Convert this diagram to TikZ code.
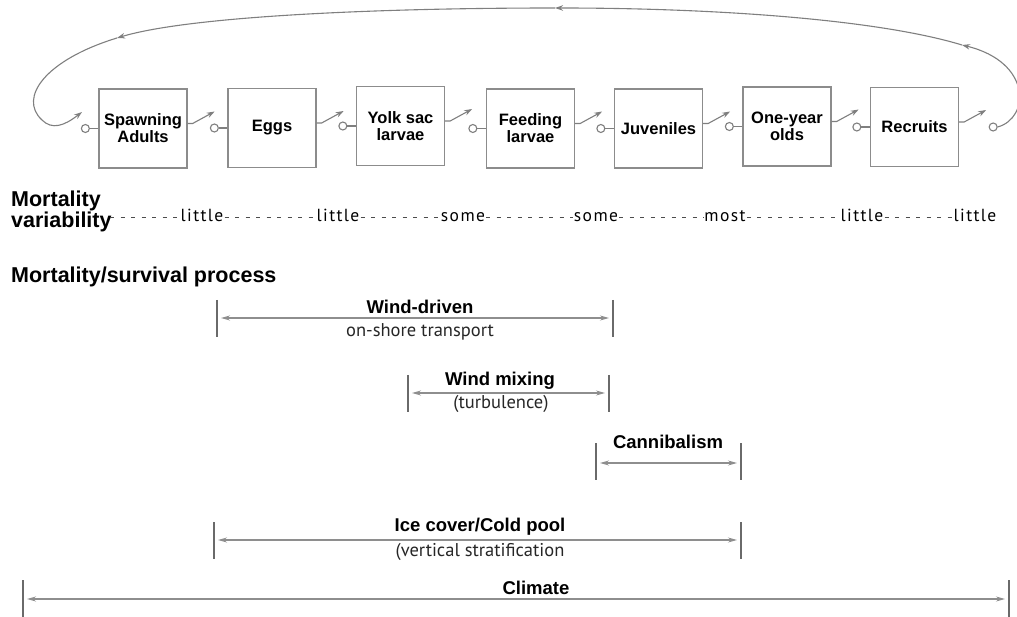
\documentclass[tikz,border=0pt]{standalone}
\usepackage{fontspec}
\setmainfont{Liberation Sans}
\newfontfamily\myr{PT Sans}
\newfontfamily\myrsp{PT Sans}[LetterSpace=8]
\usetikzlibrary{arrows.meta,calc}
\definecolor{boxgray}{HTML}{8C8C8C}
\definecolor{wiregray}{HTML}{7F7F7F}
\definecolor{bargray}{HTML}{6A6A6A}
\definecolor{spangray}{HTML}{8E8E8E}
\tikzset{
  stage/.style={draw=boxgray, line width=1.3pt, minimum width=88pt, minimum height=79pt,
    inner sep=0pt, align=center, font=\fontsize{16.5}{17}\selectfont\bfseries},
  port/.style={draw=wiregray, line width=1.1pt, circle, minimum size=8pt, inner sep=0pt},
  wire/.style={draw=wiregray, line width=1.1pt},
  tip/.style={-{Stealth[length=8pt,width=5.5pt]}},
  biglab/.style={font=\fontsize{21.5}{21}\selectfont\bfseries, align=left, inner sep=0pt},
  word/.style={font=\myrsp\fontsize{17.5}{17.5}\selectfont, inner sep=1pt, text=black},
  dashln/.style={draw=black!70, line width=0.9pt, dash pattern=on 4pt off 6.5pt},
  rlab/.style={font=\fontsize{18.5}{18.5}\selectfont\bfseries, inner sep=0pt},
  slab/.style={font=\myr\fontsize{18.5}{18.5}\selectfont, inner sep=0pt, text=black!85},
  bar/.style={draw=bargray, line width=1.6pt},
  span/.style={draw=spangray, line width=1.2pt,
    {Stealth[length=9pt,width=5pt]}-{Stealth[length=9pt,width=5pt]}},
}
\begin{document}
\begin{tikzpicture}[x=1pt,y=-1pt]
\useasboundingbox (0,0) rectangle (1017,617);

% stages
\node[stage] (b1) at (143,128.5) {Spawning\\Adults};
\node[stage] (b2) at (272,128) {Eggs};
\node[stage] (b3) at (400.5,126) {Yolk sac\\larvae};
\node[stage] (b4) at (530.5,128.5) {Feeding\\larvae};
\node[stage] (b5) at (658.5,128.5) {Juveniles};
\node[stage] (b6) at (787,126.5) {One-year\\olds};
\node[stage] (b7) at (914.5,127) {Recruits};

% input ports
\foreach \i in {1,...,7}{
  \node[port] (p\i) at ($(b\i.west)+(-13,0)$) {};
  \draw[wire] (p\i) -- (b\i.west);
}
\node[port] (p8) at ($(b7.east)+(34,0)$) {};

% switches
\foreach \i in {1,...,7}{
  \draw[wire,tip] ($(b\i.east)+(0,-5)$) -- ++(5,0) -- ++(22,-12);
}

% feedback loop
\coordinate (l1) at (962,45);
\coordinate (l2) at (555,8);
\coordinate (l3) at (117,38);
\coordinate (l4) at (42,120);
\coordinate (l5) at (82,112);
\draw[wire,tip] (p8.east) .. controls (1030,118) and (1032,62) .. (l1);
\draw[wire,tip] (l1) .. controls (880,20) and (720,8) .. (l2);
\draw[wire,tip] (l2) .. controls (380,8) and (190,16) .. (l3);
\draw[wire] (l3) .. controls (45,60) and (18,98) .. (l4);
\draw[wire,tip] (l4) .. controls (52,130) and (64,126) .. (l5);

% mortality variability
\node[biglab, anchor=west] (mv) at (11,211) {Mortality\\variability};
\node[word, anchor=base] (w1) at (202,222) {little};
\node[word, anchor=base] (w2) at (338,222) {little};
\node[word, anchor=base] (w3) at (463,222) {some};
\node[word, anchor=base] (w4) at (596,222) {some};
\node[word, anchor=base] (w5) at (725,222) {most};
\node[word, anchor=base] (w6) at (862,222) {little};
\node[word, anchor=base] (w7) at (975,222) {little};
\coordinate (d0) at (110,217);
\draw[dashln] (d0) -- (w1.west |- d0);
\draw[dashln] (w1.east |- d0) -- (w2.west |- d0);
\draw[dashln] (w2.east |- d0) -- (w3.west |- d0);
\draw[dashln] (w3.east |- d0) -- (w4.west |- d0);
\draw[dashln] (w4.east |- d0) -- (w5.west |- d0);
\draw[dashln] (w5.east |- d0) -- (w6.west |- d0);
\draw[dashln] (w6.east |- d0) -- (w7.west |- d0);

\node[biglab, anchor=west] (msp) at (11,277) {Mortality/survival process};

% Wind-driven
\coordinate (a1L) at (217,318); \coordinate (a1R) at (613,318);
\draw[bar] ($(a1L)+(0,-18)$) -- ($(a1L)+(0,19)$);
\draw[bar] ($(a1R)+(0,-18)$) -- ($(a1R)+(0,19)$);
\draw[span] ($(a1L)+(4,0)$) -- ($(a1R)+(-4,0)$);
\node[rlab] (t1) at (420,307) {Wind-driven};
\node[slab] (s1) at (420,332) {on-shore transport};

% Wind mixing
\coordinate (a2L) at (408,393); \coordinate (a2R) at (609,393);
\draw[bar] ($(a2L)+(0,-18)$) -- ($(a2L)+(0,19)$);
\draw[bar] ($(a2R)+(0,-18)$) -- ($(a2R)+(0,19)$);
\draw[span] ($(a2L)+(4,0)$) -- ($(a2R)+(-4,0)$);
\node[rlab] (t2) at (500,381) {Wind mixing};
\node[slab] (s2) at (501,404) {(turbulence)};

% Cannibalism
\coordinate (a3L) at (596,463); \coordinate (a3R) at (741,463);
\draw[bar] ($(a3L)+(0,-20)$) -- ($(a3L)+(0,17)$);
\draw[bar] ($(a3R)+(0,-20)$) -- ($(a3R)+(0,17)$);
\draw[span] ($(a3L)+(4,0)$) -- ($(a3R)+(-4,0)$);
\node[rlab] (t3) at (668,442) {Cannibalism};

% Ice cover
\coordinate (a4L) at (214,540); \coordinate (a4R) at (741,540);
\draw[bar] ($(a4L)+(0,-18)$) -- ($(a4L)+(0,19)$);
\draw[bar] ($(a4R)+(0,-18)$) -- ($(a4R)+(0,19)$);
\draw[span] ($(a4L)+(4,0)$) -- ($(a4R)+(-4,0)$);
\node[rlab] (t4) at (480,527) {Ice cover/Cold pool};
\node[slab] (s4) at (480,552) {(vertical stratification};

% Climate
\coordinate (a5L) at (23,599); \coordinate (a5R) at (1009,599);
\draw[bar] ($(a5L)+(0,-19)$) -- ($(a5L)+(0,18)$);
\draw[bar] ($(a5R)+(0,-19)$) -- ($(a5R)+(0,18)$);
\draw[span] ($(a5L)+(4,0)$) -- ($(a5R)+(-4,0)$);
\node[rlab] (t5) at (536,588) {Climate};
\end{tikzpicture}
\end{document}
